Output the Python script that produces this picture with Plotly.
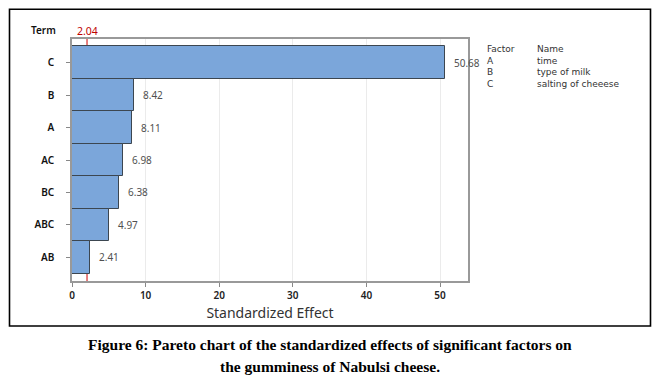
import plotly.graph_objects as go

terms = ["C", "B", "A", "AC", "BC", "ABC", "AB"]
effects = [50.68, 8.42, 8.11, 6.98, 6.38, 4.97, 2.41]
effect_labels = ["50.68", "8.42", "8.11", "6.98", "6.38", "4.97", "2.41"]
ref_value = 2.04
x_ticks = [0, 10, 20, 30, 40, 50]
factor_codes = ["A", "B", "C"]
factor_names = ["time", "type of milk", "salting of cheeese"]

FONT = "Noto Sans"


def px_x(px):
    return (px - 72) / 396


def px_y(py):
    return (281 - py) / 242


fig = go.Figure()
fig.add_trace(go.Bar(
    x=effects, y=terms, orientation="h", width=1.0,
    marker=dict(color="#7BA6DA", line=dict(color="#3C4650", width=1)),
    showlegend=False, hoverinfo="x+y",
))

annotations = []
for t, v, lab in zip(terms, effects, effect_labels):
    annotations.append(dict(x=v, y=t, xref="x", yref="y", text=lab, showarrow=False,
                            xanchor="left", xshift=7, font=dict(family=FONT, size=10, color="#505050")))

# reference value label
annotations.append(dict(x=ref_value, y=px_y(31), xref="x", yref="paper", yanchor="middle", borderpad=0,
                        text=str(ref_value), showarrow=False,
                        font=dict(family=FONT, size=10.5, color="#C00000")))
# Term label
annotations.append(dict(x=px_x(43), y=px_y(30.5), xref="paper", yref="paper", xanchor="center", yanchor="middle",
                        text="Term", showarrow=False,
                        font=dict(family=FONT, size=10, color="#111111", weight=600)))
# factor table
col1 = "Factor<br>" + "<br>".join(factor_codes)
col2 = "Name<br>" + "<br>".join(factor_names)
for xx, txt in [(486, col1), (536, col2)]:
    annotations.append(dict(x=px_x(xx), y=px_y(42.5), xref="paper", yref="paper", xanchor="left",
                            yanchor="top", align="left", borderpad=0, text=txt, showarrow=False,
                            font=dict(family="DejaVu Sans", size=9, color="#333333")))

# caption
annotations.append(dict(x=px_x(330), y=px_y(344), xref="paper", yref="paper", showarrow=False,
                        xanchor="center", yanchor="middle",
                        text="<b>Figure 6: Pareto chart of the standardized effects of significant factors on</b>",
                        font=dict(family="Liberation Serif", size=15.5, color="#000000")))
annotations.append(dict(x=px_x(330), y=px_y(366), xref="paper", yref="paper", showarrow=False,
                        xanchor="center", yanchor="middle",
                        text="<b>the gumminess of Nabulsi cheese.</b>",
                        font=dict(family="Liberation Serif", size=15.5, color="#000000")))

shapes = [
    dict(type="line", xref="x", yref="paper", x0=ref_value, x1=ref_value, y0=0, y1=1.01,
         line=dict(color="#D00000", width=1, dash="dash"), layer="below"),
    dict(type="rect", xref="paper", yref="paper", x0=px_x(9.5), x1=px_x(650.5), y0=px_y(9.2), y1=px_y(326),
         line=dict(color="#000000", width=1.6), fillcolor="rgba(0,0,0,0)"),
]

# page body has an 8px margin, so the figure is offset by 8px; compensate
fig.update_layout(
    width=646, height=371,
    margin=dict(l=64, r=186, t=31, b=98, autoexpand=False),
    paper_bgcolor="white", plot_bgcolor="white",
    font=dict(family=FONT, size=10, color="#222222"),
    annotations=annotations, shapes=shapes,
    bargap=0,
)
fig.update_xaxes(
    range=[0, 53.8], tickvals=x_ticks, ticks="outside", ticklen=4, tickcolor="#888888",
    showgrid=True, gridcolor="#EBEBEB", gridwidth=1, automargin=False,
    showline=True, linecolor="#999999", linewidth=1.5, mirror=True, zeroline=False,
    tickfont=dict(family=FONT, size=10, color="#222222", weight=600),
    title=dict(text="Standardized Effect", font=dict(family=FONT, size=14, color="#333333"), standoff=7),
)
fig.update_yaxes(
    categoryorder="array", categoryarray=terms, range=[6.73, -0.73],
    ticks="outside", ticklen=4, tickcolor="#888888", ticklabelstandoff=10, automargin=False,
    showgrid=False, showline=True, linecolor="#999999", linewidth=1.5, mirror=True,
    tickfont=dict(family=FONT, size=10, color="#111111", weight=600),
)

fig.write_html("out.html")
